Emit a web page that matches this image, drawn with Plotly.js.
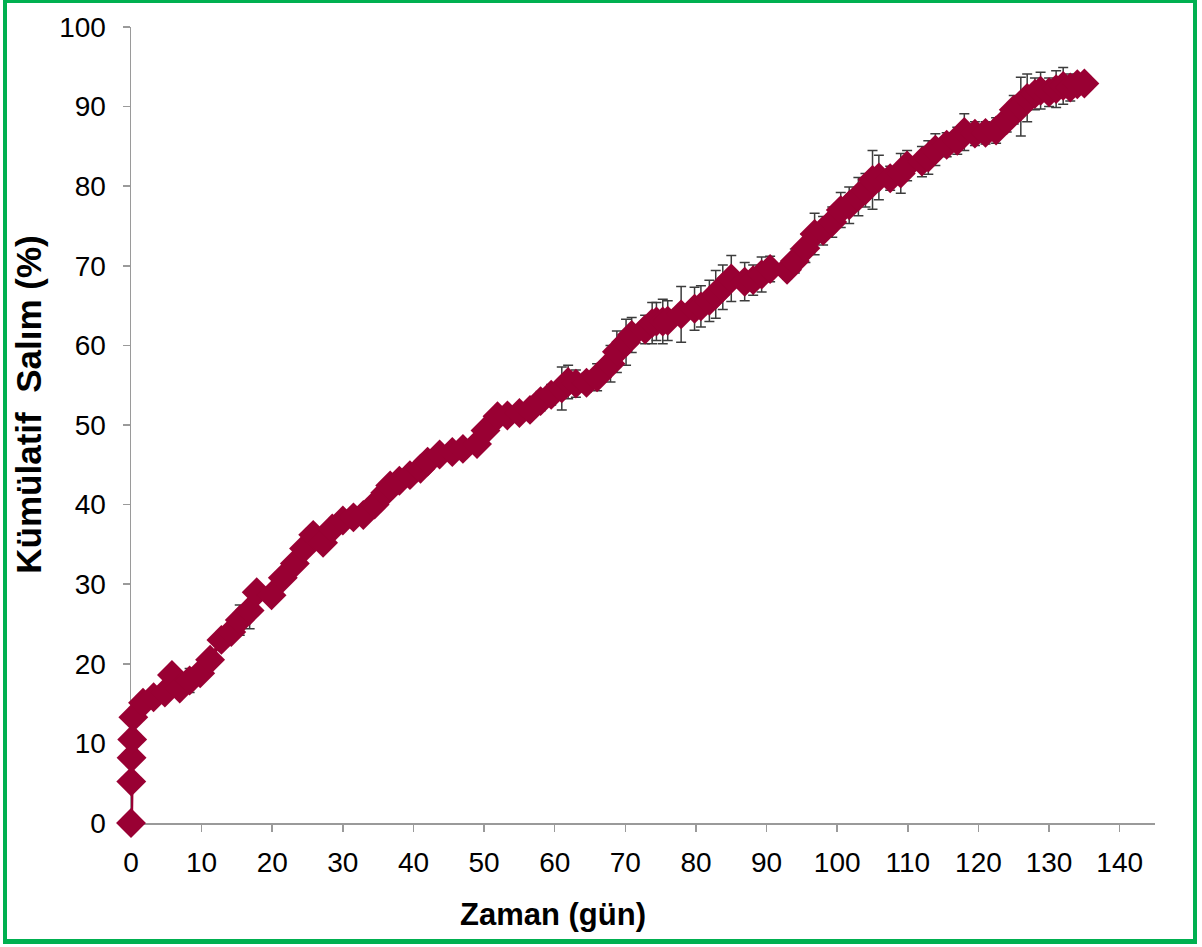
<!DOCTYPE html>
<html>
<head>
<meta charset="utf-8">
<script src="https://cdn.plot.ly/plotly-3.0.1.min.js"></script>
<style>
  html, body { margin: 0; padding: 0; background: #ffffff; }
  #wrap { position: relative; width: 1202px; height: 947px; overflow: hidden; }
  #chart { position: absolute; left: 0; top: 0; width: 1202px; height: 947px; }
  #frame { position: absolute; left: 3px; top: 0px; width: 1186px; height: 936px;
           border-style: solid; border-color: #00B050; border-width: 3px 4px 5px 4px;
           pointer-events: none; }
</style>
</head>
<body>
<div id="wrap">
  <div id="chart"></div>
  <div id="frame"></div>
</div>
<script>
// Time (days)
const days = [0, 0.04, 0.08, 0.17, 0.33, 1.7, 3.2, 4.8, 5.8, 6.9, 8.3, 9.8, 11.2, 12.8, 14.2, 15.4, 16.8, 17.8, 19.9, 21.5,
  23.2, 24.5, 25.8, 27.2, 28.5, 30, 31.5, 32.9, 34.5, 36, 36.7, 38, 39.5, 41, 42, 43.7, 45.5, 47, 49, 50.2,
  51.9, 53.3, 55, 56.5, 58, 59.5, 61, 61.9, 63, 64.5, 66, 67.9, 68.8, 70.1, 70.9, 72.8, 73.8, 74.4, 75.3, 76,
  77.9, 79.8, 80.7, 81.9, 82.8, 83.8, 85, 86.9, 88.1, 89.3, 90.5, 92.9, 94, 95.5, 96.8, 98, 99.3, 100.5, 101.7, 103,
  104, 105, 105.9, 107.5, 109, 109.9, 112, 112.9, 113.9, 115.5, 117, 118, 119.5, 121, 122.5, 124, 125, 126, 126.9, 128,
  128.8, 130, 131, 132, 133, 134, 135];
// Cumulative release (%)
const release = [0, 5.2, 8.2, 10.5, 13.3, 15.1, 15.8, 16.4, 18.6, 16.9, 17.9, 18.8, 20.5, 23.0, 24.0, 25.5, 26.7, 29.0, 28.6, 30.8,
  32.6, 34.5, 36.2, 35.2, 37.0, 38.0, 38.4, 38.7, 40.0, 41.5, 42.4, 43.0, 43.7, 44.5, 45.4, 46.3, 46.6, 47.0, 47.6, 49.3,
  51.1, 51.2, 51.5, 51.9, 53.0, 53.8, 54.6, 55.4, 55.2, 55.3, 56.0, 57.7, 59.2, 60.4, 61.3, 62.0, 62.8, 63.0, 63.0, 63.1,
  63.9, 64.6, 64.9, 65.6, 66.4, 67.3, 68.4, 68.0, 68.2, 68.9, 69.6, 69.5, 70.6, 72.2, 74.0, 74.4, 75.5, 77.0, 77.6, 78.7,
  79.5, 80.8, 81.1, 81.0, 81.6, 82.6, 83.1, 83.6, 84.6, 85.2, 85.7, 86.8, 86.6, 86.7, 87.0, 88.3, 89.6, 90.0, 91.1, 91.6,
  92.0, 91.8, 92.2, 92.6, 92.4, 92.8, 92.9];
// Standard deviation (%)
const stdev = [0, 0.3, 0.4, 0.5, 0.5, 0.6, 0.5, 0.5, 0.8, 0.6, 1.5, 0.6, 0.7, 0.8, 0.7, 1.9, 2.3, 0.8, 0.9, 1.0,
  1.0, 0.8, 0.9, 0.7, 0.6, 0.6, 0.5, 0.5, 0.5, 0.5, 0.6, 0.6, 0.7, 1.0, 0.8, 0.8, 0.7, 0.8, 0.8, 0.8,
  0.9, 0.7, 0.8, 1.0, 1.2, 1.3, 2.7, 2.1, 1.7, 1.2, 1.7, 2.3, 2.6, 2.9, 2.2, 1.8, 2.6, 2.4, 2.8, 2.5,
  3.5, 2.7, 2.6, 2.6, 3.0, 2.8, 2.9, 2.4, 1.9, 2.2, 1.6, 1.2, 1.5, 1.8, 2.6, 1.8, 1.9, 2.2, 2.3, 2.4,
  2.1, 3.7, 2.8, 1.5, 2.5, 1.9, 1.9, 2.1, 2.0, 1.5, 1.7, 2.3, 1.5, 1.4, 1.6, 1.5, 1.8, 3.7, 3.0, 2.0,
  2.3, 1.8, 2.3, 2.3, 1.7, 1.2, 0.8];

const xTickVals = [0, 10, 20, 30, 40, 50, 60, 70, 80, 90, 100, 110, 120, 130, 140];
const yTickVals = [0, 10, 20, 30, 40, 50, 60, 70, 80, 90, 100];
const xTitle = 'Zaman (gün)';
const yTitle = 'Kümülatif&nbsp; Salım (%)';

const trace = {
  x: days,
  y: release,
  type: 'scatter',
  mode: 'lines+markers',
  cliponaxis: false,
  line: { color: '#990033', width: 4 },
  marker: { symbol: 'diamond', size: 23, color: '#990033', line: { width: 0 } },
  error_y: { type: 'data', array: stdev, visible: true, color: '#3c3c3c', thickness: 1.5, width: 5 },
  hoverinfo: 'x+y'
};

const axisCommon = {
  showgrid: false, zeroline: false, showline: true, layer: 'below traces',
  linecolor: '#9a9a9a', linewidth: 1.5,
  ticks: 'outside', ticklen: 7, tickwidth: 1.5, tickcolor: '#9a9a9a',
  tickfont: { family: 'Liberation Sans, Arial, sans-serif', size: 28, color: '#000000' },
  fixedrange: true
};

const layout = {
  width: 1202, height: 947,
  margin: { l: 131, r: 47, t: 27, b: 124 },
  paper_bgcolor: '#ffffff', plot_bgcolor: '#ffffff',
  showlegend: false,
  xaxis: Object.assign({}, axisCommon, {
    range: [0, 145], tickmode: 'array', tickvals: xTickVals, ticktext: xTickVals.map(String),
    ticklabelstandoff: 7
  }),
  yaxis: Object.assign({}, axisCommon, {
    range: [0, 100], tickmode: 'array', tickvals: yTickVals, ticktext: yTickVals.map(String),
    ticklabelstandoff: 11
  }),
  annotations: [
    { text: '<b>' + xTitle + '</b>', xref: 'paper', yref: 'paper', x: 0.412, y: -0.115,
      xanchor: 'center', yanchor: 'middle', showarrow: false,
      font: { family: 'Liberation Sans, Arial, sans-serif', size: 31, color: '#000000' } },
    { text: '<b>' + yTitle + '</b>', xref: 'paper', yref: 'paper', x: -0.1, y: 0.525,
      xanchor: 'center', yanchor: 'middle', textangle: -90, showarrow: false,
      font: { family: 'Liberation Sans, Arial, sans-serif', size: 35, color: '#000000' } }
  ]
};

Plotly.newPlot('chart', [trace], layout, { displayModeBar: false, staticPlot: true });
</script>
</body>
</html>
